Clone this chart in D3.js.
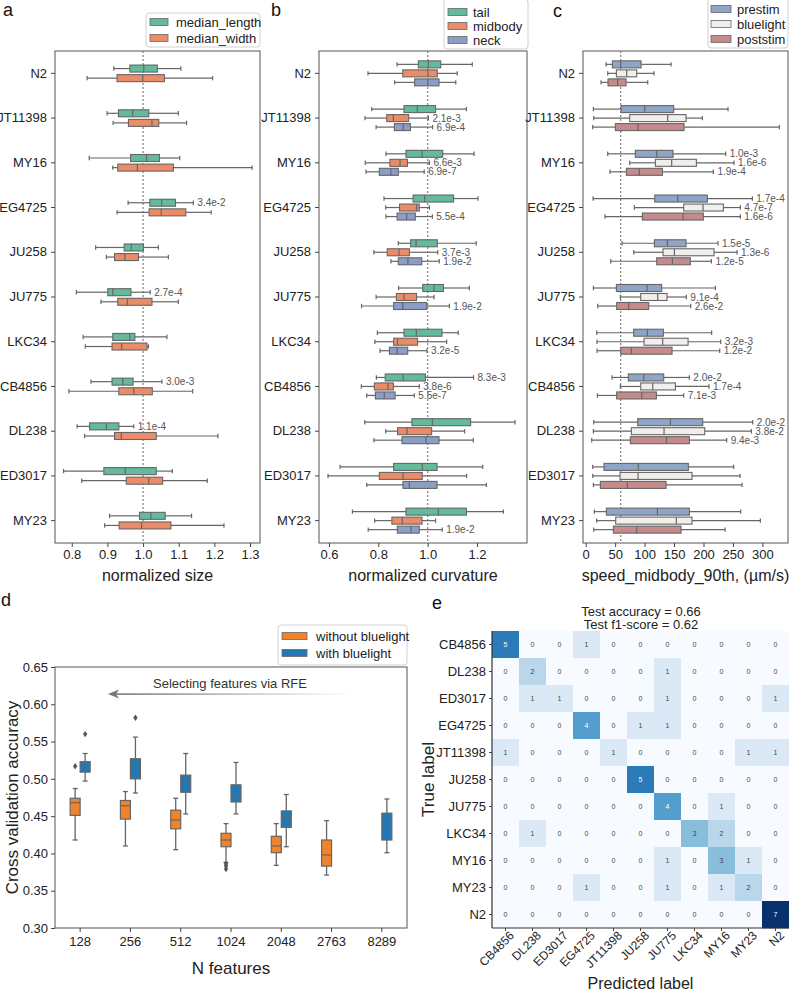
<!DOCTYPE html>
<html><head><meta charset="utf-8">
<script src="https://cdn.jsdelivr.net/npm/d3@7"></script>
<style>body{margin:0;background:#fff} svg{font-family:"Liberation Sans",Arial,sans-serif}</style>
</head><body><svg id="c" width="789" height="994"></svg>
<script>
// ---------- DATA ----------
const strains = ["N2","JT11398","MY16","EG4725","JU258","JU775","LKC34","CB4856","DL238","ED3017","MY23"];
// box stats: [whisker low, q1, median, q3, whisker high]
const sizeLength = [[0.918,0.963,1.002,1.040,1.106],[0.899,0.931,0.971,1.016,1.099],[0.849,0.965,1.010,1.046,1.103],[0.958,1.019,1.052,1.091,1.141],[0.867,0.947,0.967,1.001,1.043],[0.813,0.901,0.915,0.966,1.020],[0.832,0.915,0.963,0.977,1.067],[0.854,0.913,0.943,0.972,1.053],[0.815,0.850,0.897,0.932,0.974],[0.777,0.890,0.950,1.037,1.082],[0.906,0.990,1.022,1.062,1.136]];
const sizeWidth = [[0.843,0.927,0.999,1.060,1.195],[0.916,0.959,1.025,1.044,1.122],[0.915,0.929,0.984,1.085,1.306],[0.927,1.017,1.051,1.120,1.191],[0.897,0.920,0.949,0.987,1.071],[0.882,0.929,0.956,1.025,1.099],[0.838,0.913,0.940,1.011,1.015],[0.792,0.932,0.974,1.026,1.139],[0.836,0.920,0.939,1.037,1.210],[0.828,0.953,1.016,1.055,1.180],[0.892,0.933,0.996,1.078,1.227]];
const sizeLengthP = [null,null,null,"3.4e-2",null,"2.7e-4",null,"3.0e-3","1.1e-4",null,null];
const sizeWidthP = [null,null,null,null,null,null,null,null,null,null,null];

const curvTail = [[0.876,0.962,1.003,1.053,1.181],[0.773,0.904,0.958,1.032,1.157],[0.831,0.912,0.977,1.061,1.188],[0.823,0.941,0.988,1.105,1.204],[0.881,0.931,0.953,1.039,1.197],[0.882,0.980,1.026,1.064,1.169],[0.796,0.904,0.954,1.058,1.124],[0.792,0.828,0.901,0.991,1.186],[0.745,0.936,1.019,1.174,1.354],[0.645,0.862,0.978,1.038,1.223],[0.695,0.912,1.043,1.157,1.307]];
const curvMid = [[0.758,0.899,1.001,1.039,1.120],[0.746,0.834,0.861,0.923,1.003],[0.747,0.847,0.888,0.918,1.007],[0.830,0.886,0.955,0.966,1.007],[0.782,0.836,0.884,0.926,1.041],[0.791,0.873,0.904,0.955,1.026],[0.786,0.862,0.878,0.959,1.077],[0.731,0.784,0.839,0.861,0.966],[0.830,0.878,0.916,1.016,1.150],[0.596,0.804,0.900,0.978,1.158],[0.785,0.855,0.897,0.977,1.032]];
const curvNeck = [[0.866,0.947,1.001,1.046,1.114],[0.791,0.865,0.901,0.930,1.020],[0.750,0.804,0.851,0.881,0.986],[0.831,0.876,0.915,0.950,1.019],[0.851,0.881,0.920,0.976,1.047],[0.732,0.862,0.899,0.996,1.088],[0.807,0.845,0.876,0.919,0.997],[0.753,0.788,0.824,0.868,0.946],[0.782,0.896,0.993,1.046,1.185],[0.753,0.900,0.926,1.038,1.238],[0.759,0.877,0.932,0.966,1.059]];
const curvTailP = [null,null,null,null,null,null,null,"8.3e-3",null,null,null];
const curvMidP = [null,"2.1e-3","6.6e-3",null,"3.7e-3",null,null,"3.8e-6",null,null,null];
const curvNeckP = [null,"6.9e-4","6.9e-7","5.5e-4","1.9e-2","1.9e-2","3.2e-5","5.5e-7",null,null,"1.9e-2"];

const speedPre = [[34.5,45.3,59.4,94.0,144.9],[13.0,60.0,100.2,149.4,241.7],[37.4,84.3,120.6,148.3,237.7],[12.5,117.2,156.2,206.6,283.0],[61.7,116.6,138.7,170.4,224.7],[13.0,52.1,104.1,129.0,220.2],[18.7,81.5,104.7,131.9,213.9],[44.7,72.4,98.5,132.4,176.0],[13.6,88.3,143.8,198.7,283.6],[11.9,31.1,89.4,174.3,251.3],[14.7,35.1,121.7,176.0,263.2]];
const speedBlue = [[37.4,52.1,69.6,86.6,116.0],[13.6,74.7,139.2,170.4,198.1],[74.7,118.3,146.0,187.9,251.9],[82.6,166.4,199.2,233.8,262.6],[81.5,131.3,150.6,217.9,257.0],[58.9,93.4,122.3,138.1,170.9],[19.2,99.1,130.7,173.8,229.2],[58.9,93.4,113.8,152.3,209.4],[13.0,77.5,133.0,202.1,281.3],[11.9,58.3,88.9,180.5,262.1],[18.7,50.9,153.9,180.5,296.6]];
const speedPost = [[26.0,37.9,54.3,68.5,105.3],[11.9,50.4,88.9,167.0,328.8],[41.3,69.1,91.1,130.2,216.8],[32.8,96.2,165.3,199.8,262.6],[42.5,120.6,147.2,177.7,213.4],[20.4,52.6,73.0,107.0,178.3],[19.2,59.4,77.5,146.6,227.5],[19.8,52.6,95.1,120.0,166.4],[10.2,75.8,137.0,176.0,239.4],[13.0,24.9,70.8,136.4,265.5],[13.6,47.0,86.6,161.9,236.6]];
const speedPreP = [null,null,"1.0e-3","1.7e-4","1.5e-5",null,null,"2.0e-2","2.0e-2",null,null];
const speedBlueP = [null,null,"1.6e-6","4.7e-7","1.3e-6","9.1e-4","3.2e-3","1.7e-4","3.8e-2",null,null];
const speedPostP = [null,null,"1.9e-4","1.6e-6","1.2e-5","2.6e-2","1.2e-2","7.1e-3","9.4e-3",null,null];

const sizeTicks = [0.8,0.9,1.0,1.1,1.2,1.3];
const curvTicks = [0.6,0.8,1.0,1.2];
const speedTicks = [0,50,100,150,200,250,300];

// panel d
const nFeatures = ["128","256","512","1024","2048","2763","8289"];
const accWithout = [[0.418,0.451,0.468,0.474,0.487],[0.410,0.446,0.464,0.471,0.483],[0.405,0.433,0.445,0.458,0.474],[0.388,0.409,0.418,0.427,0.440],[0.384,0.401,0.410,0.423,0.440],[0.371,0.383,0.398,0.418,0.444],null];
const accWith = [[0.497,0.509,0.518,0.523,0.534],[0.481,0.500,0.518,0.527,0.556],[0.453,0.482,0.497,0.505,0.534],[0.453,0.469,0.477,0.492,0.522],[0.409,0.435,0.447,0.457,0.479],null,[0.401,0.418,0.437,0.454,0.473]];
const outWithout = [[0.517],[],[],[0.386,0.383,0.379],[],[],[]];
const outWith = [[0.560],[0.582],[],[],[],[],[]];
const accTicks = [0.30,0.35,0.40,0.45,0.50,0.55,0.60,0.65];

// panel e
const cmLabels = ["CB4856","DL238","ED3017","EG4725","JT11398","JU258","JU775","LKC34","MY16","MY23","N2"];
const cmValues = [
 [5,0,0,1,0,0,0,0,0,0,0],
 [0,2,0,0,0,0,1,0,0,0,0],
 [0,1,1,0,0,0,1,0,0,0,1],
 [0,0,0,4,0,1,1,0,0,0,0],
 [1,0,0,0,1,0,0,0,0,1,1],
 [0,0,0,0,0,5,0,0,0,0,0],
 [0,0,0,0,0,0,4,0,1,0,0],
 [0,1,0,0,0,0,0,3,2,0,0],
 [0,0,0,0,0,0,1,0,3,1,0],
 [0,0,0,1,0,0,1,0,1,2,0],
 [0,0,0,0,0,0,0,0,0,0,7]];

// ---------- DRAW ----------
const svg = d3.select("#c");
const EDGE = "#666";
const TXT = "#222";

function styleAxis(g, fs){
  g.select(".domain").remove();
  g.selectAll(".tick line").attr("stroke","#444");
  g.selectAll(".tick text").attr("fill",TXT).style("font-size",fs+"px").style("font-family",'"Liberation Sans",Arial,sans-serif');
}

function legend(x,y,w,h,entries){
  const g = svg.append("g");
  g.append("rect").attr("x",x).attr("y",y).attr("width",w).attr("height",h).attr("rx",3)
   .attr("fill","#fff").attr("stroke","#d0d0d0");
  entries.forEach(e=>{
    g.append("rect").attr("x",e.sx).attr("y",e.y-3.5).attr("width",e.sw).attr("height",7)
     .attr("fill",e.color).attr("stroke",EDGE).attr("stroke-width",0.8);
    g.append("text").attr("x",e.tx).attr("y",e.y).attr("dominant-baseline","central")
     .style("font-size","13px").attr("fill",TXT).text(e.label);
  });
}

function hPanel(o){
  const top=51,bottom=543;
  const x = d3.scaleLinear().domain(o.domain).range([o.left,o.right]);
  const y = d3.scaleBand().domain(strains).range([top,bottom]);
  svg.append("rect").attr("x",o.left).attr("y",top).attr("width",o.right-o.left).attr("height",bottom-top)
    .attr("fill","none").attr("stroke","#555").attr("stroke-width",1);
  svg.append("line").attr("x1",x(o.ref)).attr("x2",x(o.ref)).attr("y1",top).attr("y2",bottom)
    .attr("stroke","#888").attr("stroke-width",1.3).attr("stroke-dasharray","2,2");
  const gx = svg.append("g").attr("transform",`translate(0,${bottom})`)
    .call(d3.axisBottom(x).tickValues(o.ticks).tickFormat(o.fmt).tickSize(4).tickPadding(3));
  styleAxis(gx,13);
  const gy = svg.append("g").attr("transform",`translate(${o.left},0)`)
    .call(d3.axisLeft(y).tickSize(4).tickPadding(4));
  styleAxis(gy,13);
  svg.append("text").attr("x",(o.left+o.right)/2).attr("y",581).attr("text-anchor","middle")
    .style("font-size","16px").attr("fill",TXT).text(o.xlabel);
  o.series.forEach((s,si)=>{
    const off = o.offsets[si], bh=7;
    strains.forEach((st,i)=>{
      const d = s.data[i]; if(!d) return;
      const cy = y(st)+y.bandwidth()/2+off;
      const g = svg.append("g");
      g.append("line").attr("x1",x(d[0])).attr("x2",x(d[1])).attr("y1",cy).attr("y2",cy).attr("stroke",EDGE).attr("stroke-width",1.2);
      g.append("line").attr("x1",x(d[3])).attr("x2",x(d[4])).attr("y1",cy).attr("y2",cy).attr("stroke",EDGE).attr("stroke-width",1.2);
      [d[0],d[4]].forEach(v=>g.append("line").attr("x1",x(v)).attr("x2",x(v)).attr("y1",cy-2.2).attr("y2",cy+2.2).attr("stroke",EDGE).attr("stroke-width",1.2));
      g.append("rect").attr("x",x(d[1])).attr("y",cy-bh/2).attr("width",x(d[3])-x(d[1])).attr("height",bh)
        .attr("fill",s.color).attr("stroke",EDGE).attr("stroke-width",1.1);
      g.append("line").attr("x1",x(d[2])).attr("x2",x(d[2])).attr("y1",cy-bh/2).attr("y2",cy+bh/2).attr("stroke",EDGE).attr("stroke-width",1.2);
      if(s.p && s.p[i]){
        g.append("text").attr("x",x(d[4])+4).attr("y",cy).attr("dominant-baseline","central")
          .style("font-size","10px").attr("fill","#555").text(s.p[i]);
      }
    });
  });
}

// panel a
hPanel({left:55,right:260,domain:[0.753,1.328],ticks:sizeTicks,fmt:d3.format(".1f"),ref:1.0,
  xlabel:"normalized size",offsets:[-4.8,4.8],
  series:[{data:sizeLength,color:"#63bb9b",p:sizeLengthP},{data:sizeWidth,color:"#eb8c69",p:sizeWidthP}]});
legend(146,13,114,34,[
  {sx:150,sw:18,tx:176,y:22,color:"#63bb9b",label:"median_length"},
  {sx:150,sw:18,tx:176,y:38,color:"#eb8c69",label:"median_width"}]);

// panel b
hPanel({left:319,right:527,domain:[0.5595,1.4027],ticks:curvTicks,fmt:d3.format(".1f"),ref:1.0,
  xlabel:"normalized curvature",offsets:[-9,0,9],
  series:[{data:curvTail,color:"#63bb9b",p:curvTailP},{data:curvMid,color:"#eb8c69",p:curvMidP},{data:curvNeck,color:"#8c9ec6",p:curvNeckP}]});
legend(444,-1,84,50,[
  {sx:448,sw:19,tx:473,y:12,color:"#63bb9b",label:"tail"},
  {sx:448,sw:19,tx:473,y:26,color:"#eb8c69",label:"midbody"},
  {sx:448,sw:19,tx:473,y:40,color:"#8c9ec6",label:"neck"}]);

// panel c
hPanel({left:583,right:788,domain:[-4.6,343.5],ticks:speedTicks,fmt:d3.format("d"),ref:59.4,
  xlabel:"speed_midbody_90th, (µm/s)",offsets:[-9,0,9],
  series:[{data:speedPre,color:"#8fa5c6",p:speedPreP},{data:speedBlue,color:"#f1efec",p:speedBlueP},{data:speedPost,color:"#c58b8c",p:speedPostP}]});
legend(708,-1,80,49,[
  {sx:711,sw:20,tx:737,y:9,color:"#8fa5c6",label:"prestim"},
  {sx:711,sw:20,tx:737,y:24,color:"#f1efec",label:"bluelight"},
  {sx:711,sw:20,tx:737,y:39,color:"#c58b8c",label:"poststim"}]);

[["a",3,16],["b",271,16],["c",553,17],["d",1,606],["e",432,609]].forEach(([t,x,y])=>{
  svg.append("text").attr("x",x).attr("y",y).style("font-size","18px").attr("fill","#111").text(t);
});

// ---------- panel d ----------
(function(){
  const L=55,R=407,T=667,B=928;
  const x = d3.scaleBand().domain(nFeatures).range([L,R]);
  const y = d3.scaleLinear().domain([0.30,0.65]).range([B,T]);
  svg.append("rect").attr("x",L).attr("y",T).attr("width",R-L).attr("height",B-T).attr("fill","none").attr("stroke","#555");
  const gx = svg.append("g").attr("transform",`translate(0,${B})`).call(d3.axisBottom(x).tickSize(4).tickPadding(5));
  styleAxis(gx,13);
  const gy = svg.append("g").attr("transform",`translate(${L},0)`).call(d3.axisLeft(y).tickValues(accTicks).tickFormat(d3.format(".2f")).tickSize(4).tickPadding(3));
  styleAxis(gy,13);
  svg.append("text").attr("x",(L+R)/2).attr("y",974).attr("text-anchor","middle").style("font-size","17px").attr("fill",TXT).text("N features");
  svg.append("text").attr("transform",`translate(18,${(T+B)/2}) rotate(-90)`).attr("text-anchor","middle").style("font-size","17px").attr("fill",TXT).text("Cross validation accuracy");
  const defs = svg.append("defs");
  const grad = defs.append("linearGradient").attr("id","ag").attr("x1","0%").attr("x2","100%");
  grad.append("stop").attr("offset","0%").attr("stop-color","#777").attr("stop-opacity",1);
  grad.append("stop").attr("offset","100%").attr("stop-color","#777").attr("stop-opacity",0);
  svg.append("rect").attr("x",112).attr("y",693.3).attr("width",240).attr("height",1.6).attr("fill","url(#ag)");
  svg.append("path").attr("d","M108,694 L119,689.5 L116,694 L119,698.5 Z").attr("fill","#777");
  svg.append("text").attr("x",230).attr("y",683).attr("text-anchor","middle").attr("dominant-baseline","central").style("font-size","13px").attr("fill","#333").text("Selecting features via RFE");
  const series=[{data:accWithout,out:outWithout,color:"#f0842a",off:-5},{data:accWith,out:outWith,color:"#2178b4",off:5}];
  series.forEach(s=>{
    nFeatures.forEach((n,i)=>{
      const d=s.data[i]; if(!d) return;
      const cx = x(n)+x.bandwidth()/2+s.off, bw=10;
      const g=svg.append("g");
      g.append("line").attr("x1",cx).attr("x2",cx).attr("y1",y(d[0])).attr("y2",y(d[1])).attr("stroke",EDGE).attr("stroke-width",1.3);
      g.append("line").attr("x1",cx).attr("x2",cx).attr("y1",y(d[3])).attr("y2",y(d[4])).attr("stroke",EDGE).attr("stroke-width",1.3);
      [d[0],d[4]].forEach(v=>g.append("line").attr("x1",cx-2.5).attr("x2",cx+2.5).attr("y1",y(v)).attr("y2",y(v)).attr("stroke",EDGE).attr("stroke-width",1.3));
      g.append("rect").attr("x",cx-bw/2).attr("y",y(d[3])).attr("width",bw).attr("height",y(d[1])-y(d[3])).attr("fill",s.color).attr("stroke",EDGE).attr("stroke-width",1.2);
      g.append("line").attr("x1",cx-bw/2).attr("x2",cx+bw/2).attr("y1",y(d[2])).attr("y2",y(d[2])).attr("stroke",EDGE).attr("stroke-width",1.2);
      s.out[i].forEach(v=>{
        g.append("path").attr("d",`M${cx},${y(v)-3.2} L${cx+2.2},${y(v)} L${cx},${y(v)+3.2} L${cx-2.2},${y(v)} Z`).attr("fill","#555");
      });
    });
  });
  legend(278,625,129,40,[
    {sx:282,sw:25,tx:316,y:636,color:"#f0842a",label:"without bluelight"},
    {sx:282,sw:25,tx:316,y:653,color:"#2178b4",label:"with bluelight"}]);
})();

// ---------- panel e ----------
(function(){
  const L=492,T=631,S=27*11;
  const x = d3.scaleBand().domain(cmLabels).range([L,L+S]);
  const y = d3.scaleBand().domain(cmLabels).range([T,T+S]);
  const col = d3.scaleSequential(d3.interpolateBlues).domain([0,7]);
  cmLabels.forEach((r,i)=>cmLabels.forEach((c,j)=>{
    const v=cmValues[i][j];
    svg.append("rect").attr("x",x(c)).attr("y",y(r)).attr("width",x.bandwidth()+0.3).attr("height",y.bandwidth()+0.3).attr("fill",col(v));
    svg.append("text").attr("x",x(c)+x.bandwidth()/2).attr("y",y(r)+y.bandwidth()/2).attr("text-anchor","middle").attr("dominant-baseline","central")
      .style("font-size","7px").attr("fill",v>3.5?"#fff":"#444").text(v);
  }));
  svg.append("line").attr("x1",L).attr("x2",L).attr("y1",T).attr("y2",T+S).attr("stroke","#333").attr("stroke-width",1.2);
  svg.append("line").attr("x1",L).attr("x2",L+S).attr("y1",T+S).attr("y2",T+S).attr("stroke","#333").attr("stroke-width",1.2);
  const gy = svg.append("g").attr("transform",`translate(${L},0)`).call(d3.axisLeft(y).tickSize(3).tickPadding(3));
  styleAxis(gy,13);
  const gx = svg.append("g").attr("transform",`translate(0,${T+S})`).call(d3.axisBottom(x).tickSize(3).tickPadding(3));
  styleAxis(gx,12);
  gx.selectAll(".tick text").attr("text-anchor","end").attr("dy","0.3em").attr("dx","0.3em")
    .attr("transform","translate(0,4) rotate(-45)");
  svg.append("text").attr("x",L+S/2).attr("y",989).attr("text-anchor","middle").style("font-size","16px").attr("fill",TXT).text("Predicted label");
  svg.append("text").attr("transform",`translate(434,${T+S/2}) rotate(-90)`).attr("text-anchor","middle").style("font-size","17px").attr("fill",TXT).text("True label");
  svg.append("text").attr("x",641).attr("y",616).attr("text-anchor","middle").style("font-size","13px").attr("fill",TXT).text("Test accuracy = 0.66");
  svg.append("text").attr("x",641).attr("y",629).attr("text-anchor","middle").style("font-size","13px").attr("fill",TXT).text("Test f1-score = 0.62");
})();
</script></body></html>
